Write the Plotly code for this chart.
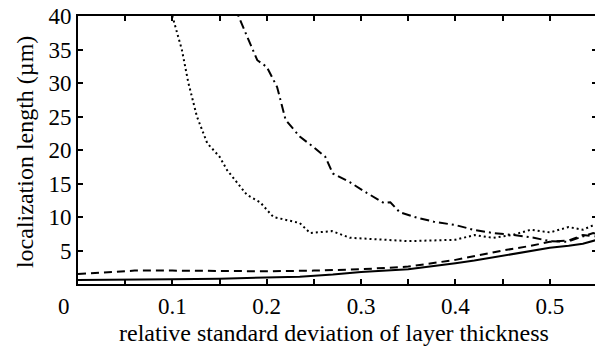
import plotly.graph_objects as go

# solid line
x_solid = [0.0, 0.05, 0.1, 0.15, 0.2, 0.235, 0.27, 0.3, 0.35, 0.38, 0.4, 0.42, 0.45, 0.47, 0.5, 0.52, 0.535, 0.55]
y_solid = [0.6, 0.6, 0.7, 0.8, 1.0, 1.1, 1.4, 1.8, 2.2, 2.7, 3.1, 3.5, 4.2, 4.6, 5.4, 5.7, 6.0, 6.6]

# dashed line
x_dash = [0.0, 0.03, 0.06, 0.1, 0.15, 0.2, 0.25, 0.3, 0.35, 0.4, 0.45, 0.48, 0.5, 0.52, 0.535, 0.55]
y_dash = [1.5, 1.8, 2.0, 2.0, 1.9, 1.9, 2.0, 2.2, 2.6, 3.6, 5.0, 5.7, 6.3, 6.5, 7.3, 7.1]

# dotted line
x_dot = [0.097, 0.1, 0.11, 0.117, 0.126, 0.137, 0.15, 0.158, 0.179, 0.193, 0.207, 0.235, 0.246, 0.269,
         0.288, 0.32, 0.35, 0.4, 0.42, 0.44, 0.46, 0.48, 0.5, 0.52, 0.535, 0.55]
y_dot = [43, 40, 35, 30, 25, 21, 19, 17, 13.3, 12.2, 10.0, 9.1, 7.6, 7.9,
         6.9, 6.6, 6.4, 6.6, 7.3, 6.9, 7.3, 8.1, 7.7, 8.5, 8.1, 9.0]

# dash-dot line
x_dd = [0.165, 0.17, 0.179, 0.19, 0.2, 0.211, 0.22, 0.235, 0.25, 0.262, 0.27, 0.288, 0.306, 0.324, 0.331,
        0.341, 0.359, 0.377, 0.4, 0.419, 0.44, 0.462, 0.483, 0.5, 0.518, 0.532, 0.546, 0.55]
y_dd = [42, 40, 37, 33.4, 32.4, 29.4, 24.5, 22, 20.4, 19, 16.5, 15.2, 13.6, 12.1, 12.2,
        10.7, 9.9, 9.3, 8.8, 8.1, 7.6, 7.3, 6.9, 6.4, 6.3, 7.0, 7.6, 7.5]

NB = "\u00a0" * 5
x_tickvals = [0, 0.05, 0.1, 0.15, 0.2, 0.25, 0.3, 0.35, 0.4, 0.45, 0.5, 0.55]
x_ticktext = ["0" + NB, "", "0.1", "", "0.2", "", "0.3", "", "0.4", "", "0.5", ""]
y_tickvals = [5, 10, 15, 20, 25, 30, 35, 40]

x_title = "relative standard deviation of layer thickness"
y_title = "localization length (µm)"

fig = go.Figure()
fig.add_trace(go.Scatter(x=x_solid, y=y_solid, mode="lines", line=dict(color="black", width=2)))
fig.add_trace(go.Scatter(x=x_dash, y=y_dash, mode="lines", line=dict(color="black", width=2, dash="8px,5px")))
fig.add_trace(go.Scatter(x=x_dot, y=y_dot, mode="lines", line=dict(color="black", width=2, dash="2px,3px")))
fig.add_trace(go.Scatter(x=x_dd, y=y_dd, mode="lines", line=dict(color="black", width=2, dash="9px,4px,2px,4px")))

font = dict(family="Liberation Serif", size=23, color="black")
tfont = dict(family="Liberation Serif", size=24, color="black")
fig.update_layout(
    width=595, height=341,
    margin=dict(l=70, r=6, t=8, b=65, autoexpand=False),
    paper_bgcolor="white", plot_bgcolor="white",
    showlegend=False,
    font=font,
    annotations=[
        dict(text=x_title, xref="paper", yref="paper", x=0.493, y=-0.183,
             xanchor="center", yanchor="middle", showarrow=False, font=tfont),
        dict(text=y_title, xref="paper", yref="paper", x=-0.102, y=0.4925, textangle=-90,
             xanchor="center", yanchor="middle", showarrow=False, font=tfont),
    ],
)
fig.update_xaxes(
    range=[0, 0.55], tickvals=x_tickvals, ticktext=x_ticktext,
    ticks="inside", ticklen=5, tickwidth=1.5, tickcolor="black",
    showline=True, linecolor="black", linewidth=2, mirror="ticks",
    showgrid=False, zeroline=False, automargin=False, ticklabeloverflow="allow",
    tickfont=font,
)
fig.update_yaxes(
    range=[0, 40], tickvals=y_tickvals,
    ticks="inside", ticklen=5, tickwidth=1.5, tickcolor="black",
    showline=True, linecolor="black", linewidth=2, mirror="ticks",
    showgrid=False, zeroline=False, automargin=False, ticklabeloverflow="allow",
    tickfont=font,
)
fig.write_html("out.html")
